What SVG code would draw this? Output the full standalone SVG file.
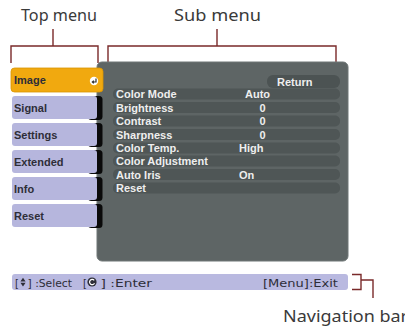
<svg xmlns="http://www.w3.org/2000/svg" width="405" height="327" viewBox="0 0 405 327">
<style>
.lbl{font-family:"Noto Sans","Open Sans",sans-serif;font-size:17px;fill:#3a3a3a}
.br{fill:none;stroke:#7a2a2a;stroke-width:1.4}
.btn{fill:#b6b6dd}
.tab{fill:#0a0a0a}
.bt{font-family:"Liberation Sans",Arial,sans-serif;font-weight:bold;font-size:11px;fill:#2e2e38}
.row{fill:#4f5656}
.st{font-family:"Liberation Sans",Arial,sans-serif;font-weight:bold;font-size:11px;fill:#eeeeee}
.nt{font-family:"DejaVu Sans",sans-serif;font-size:10px;fill:#2e2e38}
</style>
<rect width="405" height="327" fill="#ffffff"/>

<g id="labels">
<text class="lbl" x="21" y="21" textLength="76" lengthAdjust="spacingAndGlyphs">Top menu</text>
<text class="lbl" x="174" y="21" textLength="87" lengthAdjust="spacingAndGlyphs">Sub menu</text>
<text class="lbl" x="283" y="322" textLength="125" lengthAdjust="spacingAndGlyphs">Navigation bar</text>
</g>

<g id="connectors">
<path class="br" d="M53,29 V46 M11,63 V46 H98 V63"/>
<path class="br" d="M217,29 V46 M108,63 V46 H336 V63"/>
<path class="br" d="M352,274.5 H361 V289.5 H352 M361,280 H373 V298"/>
</g>

<g id="sub-panel">
<rect x="97" y="62" width="251" height="199" rx="5" fill="#5e6565" stroke="#6f7676" stroke-width="1"/>
<rect x="267" y="75" width="73" height="13" rx="6" fill="#4c5353"/>
<text class="st" x="277" y="85.5">Return</text>
<rect class="row" x="113" y="88.5" width="227" height="11" rx="5"/>
<rect class="row" x="113" y="102" width="227" height="11" rx="5"/>
<rect class="row" x="113" y="115.5" width="227" height="11" rx="5"/>
<rect class="row" x="113" y="129" width="227" height="11" rx="5"/>
<rect class="row" x="113" y="142.5" width="227" height="11" rx="5"/>
<rect class="row" x="113" y="155.5" width="227" height="11" rx="5"/>
<rect class="row" x="113" y="169" width="227" height="11" rx="5"/>
<rect class="row" x="113" y="182.5" width="227" height="11" rx="5"/>
<text class="st" x="116" y="98">Color Mode</text>
<text class="st" x="116" y="111.5">Brightness</text>
<text class="st" x="116" y="125">Contrast</text>
<text class="st" x="116" y="138.5">Sharpness</text>
<text class="st" x="116" y="152">Color Temp.</text>
<text class="st" x="116" y="165">Color Adjustment</text>
<text class="st" x="116" y="178.5">Auto Iris</text>
<text class="st" x="116" y="192">Reset</text>
<text class="st" x="245" y="98">Auto</text>
<text class="st" x="259.5" y="111.5">0</text>
<text class="st" x="259.5" y="125">0</text>
<text class="st" x="259.5" y="138.5">0</text>
<text class="st" x="239" y="152">High</text>
<text class="st" x="239" y="178.5">On</text>
</g>

<g id="top-image">
<rect x="11" y="68" width="92" height="24" rx="3.5" fill="#f1a90f" stroke="#d99400" stroke-width="0.8"/>
<text class="bt" x="14" y="84">Image</text>
<circle cx="94" cy="81" r="4.2" fill="#ffffff"/>
<path d="M96,78.5 V82 H92.5 M93.8,80.6 L92.3,82 L93.8,83.4" fill="none" stroke="#333" stroke-width="1.2"/>
</g>
<g id="top-signal">
<rect class="tab" x="88" y="96" width="14.5" height="24" rx="3.5"/>
<rect class="btn" x="12" y="96" width="85" height="23" rx="3"/>
<text class="bt" x="14" y="111.5">Signal</text>
</g>
<g id="top-settings">
<rect class="tab" x="88" y="123" width="14.5" height="24" rx="3.5"/>
<rect class="btn" x="12" y="123" width="85" height="23" rx="3"/>
<text class="bt" x="14" y="138.5">Settings</text>
</g>
<g id="top-extended">
<rect class="tab" x="88" y="150" width="14.5" height="24" rx="3.5"/>
<rect class="btn" x="12" y="150" width="85" height="23" rx="3"/>
<text class="bt" x="14" y="165.5">Extended</text>
</g>
<g id="top-info">
<rect class="tab" x="88" y="177" width="14.5" height="24" rx="3.5"/>
<rect class="btn" x="12" y="177" width="85" height="23" rx="3"/>
<text class="bt" x="14" y="192.5">Info</text>
</g>
<g id="top-reset">
<rect class="tab" x="88" y="204" width="14.5" height="24" rx="3.5"/>
<rect class="btn" x="12" y="204" width="85" height="23" rx="3"/>
<text class="bt" x="14" y="219.5">Reset</text>
</g>

<g id="nav-bar">
<rect x="12" y="274" width="336" height="16" rx="3" fill="#b9b9e0"/>
<text class="nt" x="15" y="286.5">[</text>
<path d="M23,277.8 L25.6,281.4 H20.4 Z M23,286.4 L25.6,282.8 H20.4 Z" fill="#2e2e38"/>
<text class="nt" x="27.5" y="286.5" textLength="44.5" lengthAdjust="spacingAndGlyphs">] :Select</text>
<text class="nt" x="83" y="286.5">[</text>
<circle cx="92" cy="282" r="4.6" fill="#2e2e38"/>
<path d="M94.2,280.4 A2.6,2.6 0 1 0 94.5,283.2" fill="none" stroke="#ffffff" stroke-width="1.2"/>
<text class="nt" x="100.5" y="286.5" textLength="51.5" lengthAdjust="spacingAndGlyphs">] :Enter</text>
<text class="nt" x="263" y="286.5" textLength="75" lengthAdjust="spacingAndGlyphs">[Menu]:Exit</text>
</g>
</svg>
